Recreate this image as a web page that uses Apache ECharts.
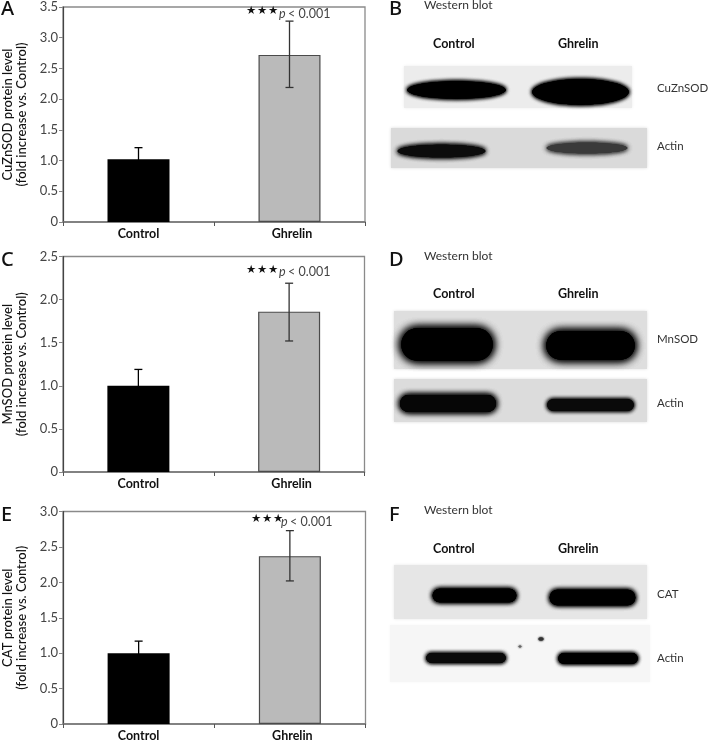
<!DOCTYPE html>
<html>
<head>
<meta charset="utf-8">
<style>html,body{margin:0;padding:0;background:#fff}#c{width:708px;height:742px}</style>
<script src="https://cdn.jsdelivr.net/npm/echarts@6/dist/echarts.min.js"></script>
</head>
<body>
<div id="c"></div>
<script>
var categories = ['Control', 'Ghrelin'];
var yMaxes = [3.5, 2.5, 3.0];
var cuznsodMeans = [1.02, 2.72];
var cuznsodHigh = [1.21, 3.27];
var cuznsodLow = [0.83, 2.19];
var mnsodMeans = [1.0, 1.86];
var mnsodHigh = [1.19, 2.19];
var mnsodLow = [0.81, 1.52];
var catMeans = [1.0, 2.37];
var catHigh = [1.17, 2.73];
var catLow = [0.83, 2.02];
var yTitles = ['CuZnSOD protein level\n(fold increase vs. Control)',
  'MnSOD protein level\n(fold increase vs. Control)',
  'CAT protein level\n(fold increase vs. Control)'];

var FONT = 'Lato';
var means = [cuznsodMeans, mnsodMeans, catMeans];
var highs = [cuznsodHigh, mnsodHigh, catHigh];
var lows = [cuznsodLow, mnsodLow, catLow];
var grids = [
  {left: 62.5, top: 7, width: 302.5, height: 215},
  {left: 62, top: 256.5, width: 302.5, height: 215.5},
  {left: 63, top: 511.5, width: 302.5, height: 215.5}
];

var option = {
  backgroundColor: '#fff', animation: false,
  grid: [], xAxis: [], yAxis: [], series: [], graphic: []
};

grids.forEach(function (g, i) {
  option.grid.push({left: g.left, top: g.top, width: g.width, height: g.height, show: true,
    borderColor: '#8a8a8a', borderWidth: 1.3, backgroundColor: '#fff'});
  option.xAxis.push({type: 'category', gridIndex: i, data: categories,
    axisLine: {lineStyle: {color: '#777', width: 1.5}},
    axisTick: {show: true, length: 4, lineStyle: {color: '#555', width: 1}},
    axisLabel: {color: '#111', fontFamily: FONT, fontWeight: 'bold', fontSize: 12.5, margin: 5, interval: 0,
      formatter: function (v) { return v === 'Ghrelin' ? '{g|' + v + '}' : v; },
      rich: {g: {color: '#111', fontFamily: FONT, fontWeight: 'bold', fontSize: 12.5, padding: [0, 0, 0, 5]}}}});
  option.yAxis.push({type: 'value', gridIndex: i, min: 0, max: yMaxes[i], interval: 0.5,
    name: yTitles[i], nameLocation: 'middle', nameRotate: 90, nameGap: 34,
    nameTextStyle: {color: '#111', fontFamily: FONT, fontSize: 13, fontWeight: 500, lineHeight: 14},
    splitLine: {show: false},
    axisLine: {show: true, lineStyle: {color: '#444', width: 1.2}},
    axisTick: {show: true, length: 4, lineStyle: {color: '#888', width: 1}},
    axisLabel: {color: '#444', fontFamily: FONT, fontSize: 13, margin: 5,
      formatter: function (v) { return v === 0 ? '0' : v.toFixed(1); }}});
  option.series.push({type: 'bar', xAxisIndex: i, yAxisIndex: i, barWidth: 62, z: 2,
    data: means[i].map(function (v, k) {
      return {value: v, itemStyle: k === 0
        ? {color: '#000', borderColor: '#000', borderWidth: 0}
        : {color: '#bababa', borderColor: '#4a4a4a', borderWidth: 1.2}};
    })});
  option.series.push({type: 'custom', xAxisIndex: i, yAxisIndex: i, z: 5,
    data: categories.map(function (c, k) { return [k, lows[i][k], highs[i][k], means[i][k]]; }),
    encode: {x: 0, y: [1, 2]},
    renderItem: function (params, api) {
      var x = api.coord([api.value(0), 0])[0];
      var lo = api.coord([api.value(0), api.value(1)])[1];
      var hi = api.coord([api.value(0), api.value(2)])[1];
      var st = {stroke: params.dataIndex === 0 ? '#000' : '#333', lineWidth: 1.3, fill: null};
      return {type: 'group', children: [
        {type: 'line', shape: {x1: x, y1: lo, x2: x, y2: hi}, style: st},
        {type: 'line', shape: {x1: x - 4, y1: hi, x2: x + 4, y2: hi}, style: st},
        {type: 'line', shape: {x1: x - 4, y1: lo, x2: x + 4, y2: lo}, style: st}
      ]};
    }});
});

function txt(x, y, t, o) {
  o = o || {};
  option.graphic.push({type: 'text', x: x, y: y, z: 20, style: {text: t, fill: o.color || '#333',
    font: (o.style || 'normal') + ' ' + (o.weight || 'normal') + ' ' + (o.size || 11.5) + 'px ' + (o.family || FONT),
    textVerticalAlign: 'middle', textAlign: o.align || 'left'}});
}
function panel(x, y, w, h, color, blur) {
  option.graphic.push({type: 'rect', z: 10, shape: {x: x, y: y, width: w, height: h},
    style: {fill: color, shadowBlur: blur === undefined ? 3 : blur, shadowColor: color}});
}
// A band is a core shape drawn several times so its blurred edge builds up softly.
function band(x1, y1, x2, y2, color, blur, lens) {
  var inset = blur / 3;
  var a = x1 + inset, b = y1 + inset, w = x2 - x1 - 2 * inset, h = y2 - y1 - 2 * inset;
  var st = {fill: color, shadowBlur: blur, shadowColor: color};
  for (var n = 0; n < 3; n++) {
    if (lens) {
      option.graphic.push({type: 'ellipse', z: 12, shape: {cx: a + w / 2, cy: b + h / 2, rx: w / 2, ry: h / 2}, style: st});
    } else {
      option.graphic.push({type: 'rect', z: 12, shape: {x: a, y: b, width: w, height: h, r: h * 0.49}, style: st});
    }
  }
}

// panel letters
var LET = {size: 20, weight: 500, color: '#111', family: 'Noto Sans'};
txt(1, 9, 'A', LET);
txt(1, 260, 'C', LET);
txt(1, 515, 'E', LET);
txt(389, 9, 'B', LET);
txt(389, 260, 'D', LET);
txt(389, 515, 'F', LET);

// significance notes
function note(sx, sy, px, py) {
  [0, 11, 22].forEach(function (dx) {
    txt(sx + dx, sy, '\u2605', {size: 11.5, color: '#111', family: 'DejaVu Sans'});
  });
  txt(px, py, 'p', {style: 'italic', size: 12.5, color: '#444'});
  txt(px + 9, py, '< 0.001', {size: 12.5, color: '#444'});
}
note(246, 11, 279, 14);
note(246, 270, 279, 272);
note(251, 519, 281, 522);

// western blots
[[424, 5, 44, 88, 146, 'CuZnSOD'], [424, 256, 294, 339, 403, 'MnSOD'], [424, 510, 549, 594, 658, 'CAT']].forEach(function (r) {
  txt(r[0], r[1], 'Western blot', {size: 12, color: '#333'});
  txt(433, r[2], 'Control', {size: 12.5, weight: 'bold', color: '#111'});
  txt(558, r[2], 'Ghrelin', {size: 12.5, weight: 'bold', color: '#111'});
  txt(657, r[3], r[5], {size: 11.5, color: '#333'});
  txt(657, r[4], 'Actin', {size: 11.5, color: '#333'});
});

// B
panel(404, 66, 228, 42, '#ececec');
panel(391, 128, 256, 40, '#dadada');
band(406, 80, 507, 100, '#000', 4, true);
band(531, 78, 630, 106, '#000', 4, true);
band(396, 143, 487, 159, '#0c0c0c', 5, true);
band(545, 141, 629, 155, '#3a3a3a', 5, true);
// D
panel(394, 311, 253, 58, '#dedede');
panel(394, 379, 253, 43, '#dcdcdc');
band(398, 325, 496, 364, '#000', 10);
band(543, 328, 638, 363, '#000', 10);
band(398, 393, 498, 414, '#060606', 6);
band(546, 398, 635, 412, '#0a0a0a', 4);
// F
panel(394, 565, 253, 54, '#e6e6e6');
panel(390, 625, 260, 57, '#f6f6f6');
band(431, 587, 518, 604, '#000', 5);
band(548, 588, 637, 607, '#000', 5);
band(425, 652, 507, 664, '#0a0a0a', 4);
band(557, 652, 639, 665, '#000', 4);
band(538, 637, 544, 641, '#333', 2);
band(518, 645, 522, 648, '#666', 2);

echarts.init(document.getElementById('c'), null, {renderer: 'canvas'}).setOption(option);
</script>
</body>
</html>
